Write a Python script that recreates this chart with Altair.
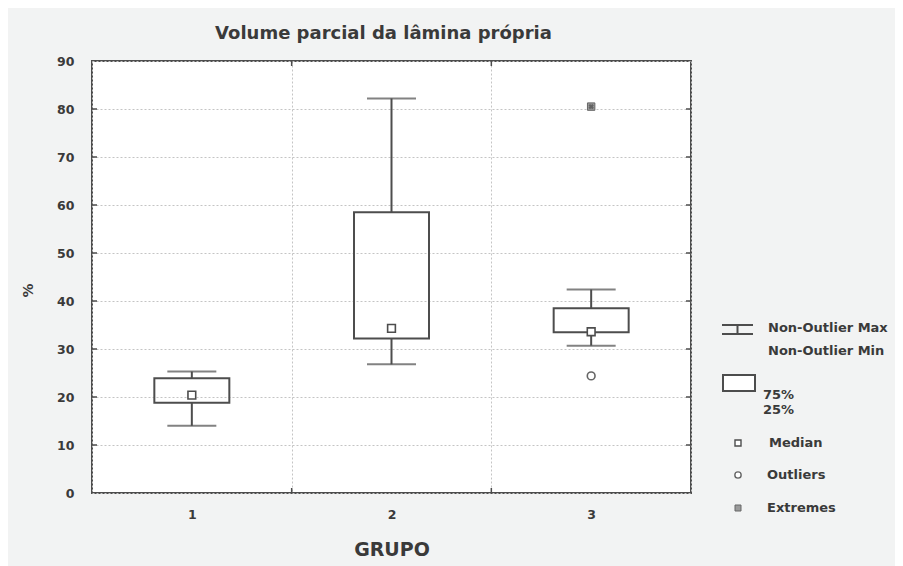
import altair as alt
import pandas as pd

# ---- data ----
grupos = ["1", "2", "3"]
whisker_min = [14.0, 26.8, 30.7]
q1 = [18.8, 32.2, 33.5]
median = [20.4, 34.3, 33.6]
q3 = [23.9, 58.5, 38.5]
whisker_max = [25.3, 82.2, 42.4]
outlier_grupo = ["3"]
outlier_val = [24.4]
extreme_grupo = ["3"]
extreme_val = [80.5]
y_ticks = [0, 10, 20, 30, 40, 50, 60, 70, 80, 90]

title_text = "Volume parcial da lâmina própria"
x_title = "GRUPO"
y_title = "%"
legend_labels = ["Non-Outlier Max", "Non-Outlier Min", "75%", "25%", "Median", "Outliers", "Extremes"]

FONT = "DejaVu Sans"
LINE = "#4d4d4d"
TXT = "#3a3a3a"
W, H = 599, 432

box_df = pd.DataFrame({"g": grupos, "wmin": whisker_min, "q1": q1, "med": median,
                       "q3": q3, "wmax": whisker_max})
out_df = pd.DataFrame({"g": outlier_grupo, "v": outlier_val})
ext_df = pd.DataFrame({"g": extreme_grupo, "v": extreme_val})
tick_df = pd.DataFrame({"v": y_ticks[1:-1]})
bound_df = pd.DataFrame({"g": grupos[1:]})

xscale = alt.Scale(domain=grupos, paddingInner=0, paddingOuter=0)
yscale = alt.Scale(domain=[0, 90])

xenc = alt.X("g:N", scale=xscale, title=x_title,
             axis=alt.Axis(labelAngle=0, ticks=False, domain=False, grid=True, tickBand="extent",
                           labelPadding=15, labelFont=FONT, labelFontSize=12.5, labelFontWeight="bold",
                           labelColor=TXT, titleFont=FONT, titleFontSize=19, titleFontWeight="bold",
                           titleColor=TXT, titleY=56, titleBaseline="middle",
                           gridColor="#c4c4c4", gridDash=[2, 2], gridWidth=1))

base = alt.Chart(box_df)

boxes = base.mark_bar(size=75, fill="white", fillOpacity=0, stroke=LINE, strokeWidth=2).encode(
    x=xenc,
    y=alt.Y("q1:Q", scale=yscale, title=y_title,
            axis=alt.Axis(values=y_ticks, ticks=False, domain=False, grid=True, labelPadding=18,
                          labelFont=FONT, labelFontSize=12.5, labelFontWeight="bold", labelColor=TXT,
                          titleFont=FONT, titleFontSize=14, titleFontWeight="bold", titleColor=TXT,
                          titleX=-64, titleY=229, titleAngle=270, titleBaseline="middle",
                          gridColor="#c4c4c4", gridDash=[2, 2], gridWidth=1)),
    y2="q3:Q",
)
wlow = base.mark_rule(color=LINE, strokeWidth=2).encode(x="g:N", y="wmin:Q", y2="q1:Q")
whigh = base.mark_rule(color=LINE, strokeWidth=2).encode(x="g:N", y="q3:Q", y2="wmax:Q")
cap_lo = base.mark_tick(size=49, thickness=2, color=LINE, orient="horizontal").encode(x="g:N", y="wmin:Q")
cap_hi = base.mark_tick(size=49, thickness=2, color=LINE, orient="horizontal").encode(x="g:N", y="wmax:Q")
med = base.mark_point(shape="square", size=60, filled=True, fill="white", stroke=LINE,
                      strokeWidth=1.6, opacity=1).encode(x="g:N", y="med:Q")
outl = alt.Chart(out_df).mark_point(shape="circle", size=60, filled=True, fill="white",
                                    stroke="#666666", strokeWidth=1.6, opacity=1).encode(x="g:N", y="v:Q")
extr = alt.Chart(ext_df).mark_point(shape="square", size=55, filled=True, fill="#9a9a9a",
                                    stroke="#666666", strokeWidth=1, opacity=1).encode(x="g:N", y="v:Q")
extr_x = alt.Chart(ext_df).mark_point(shape="cross", size=30, filled=True, fill="#555555",
                                      opacity=0.8, angle=45).encode(x="g:N", y="v:Q")

# inward ticks on the frame
lt = alt.Chart(tick_df).mark_rule(color=LINE, strokeWidth=1.5).encode(y="v:Q", x=alt.value(0), x2=alt.value(5))
rt = alt.Chart(tick_df).mark_rule(color=LINE, strokeWidth=1.5).encode(y="v:Q", x=alt.value(W - 5), x2=alt.value(W))
tt = alt.Chart(bound_df).mark_rule(color=LINE, strokeWidth=1.5).encode(
    x=alt.X("g:N", bandPosition=0), y=alt.value(0), y2=alt.value(5))
bt = alt.Chart(bound_df).mark_rule(color=LINE, strokeWidth=1.5).encode(
    x=alt.X("g:N", bandPosition=0), y=alt.value(H - 5), y2=alt.value(H))

# ---- legend (drawn outside the plot area) ----
one = alt.Data(values=[{"a": 0}])
def lrule(x1, x2, y1, y2):
    return alt.Chart(one).mark_rule(color=LINE, strokeWidth=2).encode(
        x=alt.value(x1), x2=alt.value(x2), y=alt.value(y1), y2=alt.value(y2))
def ltext(t, x, y):
    return alt.Chart(one).mark_text(align="left", baseline="middle", font=FONT, fontSize=13,
                                    fontWeight="bold", color=TXT).encode(
        x=alt.value(x), y=alt.value(y), text=alt.value(t))

leg = [
    lrule(630, 661, 264, 264), lrule(630, 661, 273, 273), lrule(645.5, 645.5, 264, 273),
    alt.Chart(one).mark_rect(fill="white", stroke=LINE, strokeWidth=2).encode(
        x=alt.value(631), x2=alt.value(663), y=alt.value(314), y2=alt.value(330)),
    alt.Chart(one).mark_point(shape="square", size=36, filled=True, fill="white", stroke=LINE,
                              strokeWidth=1.4, opacity=1).encode(x=alt.value(646), y=alt.value(382)),
    alt.Chart(one).mark_point(shape="circle", size=40, filled=True, fill="white", stroke="#666666",
                              strokeWidth=1.4, opacity=1).encode(x=alt.value(646), y=alt.value(414)),
    alt.Chart(one).mark_point(shape="square", size=36, filled=True, fill="#9a9a9a", stroke="#666666",
                              strokeWidth=1, opacity=1).encode(x=alt.value(646), y=alt.value(447)),
    ltext(legend_labels[0], 676, 267), ltext(legend_labels[1], 676, 290),
    ltext(legend_labels[2], 671, 334), ltext(legend_labels[3], 671, 349),
    ltext(legend_labels[4], 677, 382), ltext(legend_labels[5], 675, 414),
    ltext(legend_labels[6], 675, 447),
]

chart = alt.layer(boxes, wlow, whigh, cap_lo, cap_hi, med, outl, extr, extr_x,
                  lt, rt, tt, bt, *leg).properties(
    width=W, height=H,
    title=alt.TitleParams(title_text, font=FONT, fontSize=18, fontWeight="bold", color=TXT,
                          anchor="middle", frame="group", baseline="alphabetic", offset=24,
                          dx=-8, dy=26),
    padding={"left": 84, "top": 53, "right": 204, "bottom": 73},
    autosize=alt.AutoSizeParams(type="none"),
).configure(background="#f2f3f3").configure_view(fill="white", stroke=LINE, strokeWidth=2)

chart.save("out.html", embed_options={"renderer": "svg", "actions": False})
